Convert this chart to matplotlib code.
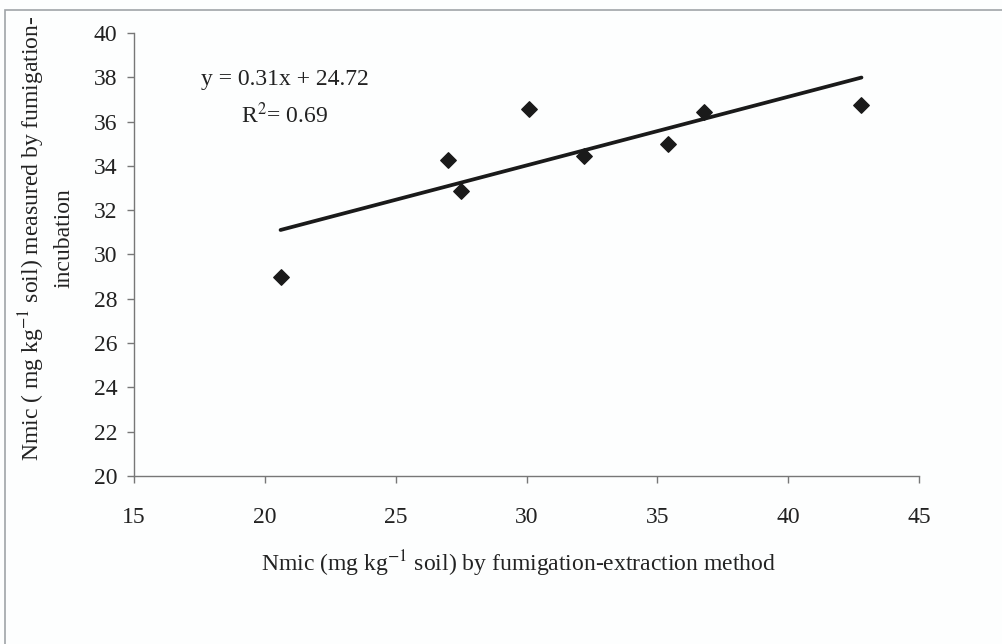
import numpy as np
import matplotlib
matplotlib.use("Agg")
import matplotlib.pyplot as plt
from matplotlib.patches import Rectangle

# Nmic by fumigation-extraction (x) vs fumigation-incubation (y), mg/kg soil
fe_nmic = [20.6, 27.0, 27.5, 30.1, 32.2, 35.4, 36.8, 42.8]
fi_nmic = [29.0, 34.25, 32.88, 36.55, 34.43, 35.0, 36.45, 36.73]

# regression as printed on the chart
slope = 0.31
intercept = 24.72
r_squared = 0.69

x_ticks = [15, 20, 25, 30, 35, 40, 45]
y_ticks = [20, 22, 24, 26, 28, 30, 32, 34, 36, 38, 40]

plt.rcParams["font.family"] = ["Liberation Serif", "DejaVu Serif"]
plt.rcParams["mathtext.fontset"] = "stix"

fs = 17

fig = plt.figure(figsize=(10.03, 6.44), dpi=100)
fig.patch.set_facecolor("#fdfefe")
ax = fig.add_axes([0.1336, 0.2609, 0.7827, 0.6879])
ax.set_facecolor("none")

ax.scatter(fe_nmic, fi_nmic, marker="D", s=62, color="#1a1a1a", zorder=3)

# trend line over the range of the data
xs = np.array([min(fe_nmic), max(fe_nmic)])
ax.plot(xs, slope * xs + intercept, color="#1a1a1a", lw=2.7, solid_capstyle="round", zorder=2)

ax.text(0.192, 0.894, f"y = {slope}x + {intercept}", transform=ax.transAxes,
        ha="center", va="center", fontsize=fs, color="#222222")
ax.text(0.192, 0.815, f"R$^2$= {r_squared}", transform=ax.transAxes,
        ha="center", va="center", fontsize=fs, color="#222222")

ax.set_xlim(15, 45)
ax.set_ylim(20, 40)
ax.set_xticks(x_ticks)
ax.set_yticks(y_ticks)
ax.tick_params(axis="both", labelsize=fs, colors="#777777", labelcolor="#222222",
               direction="out", length=5, width=1)
ax.tick_params(axis="x", pad=17)
ax.tick_params(axis="y", pad=7)

for side in ["top", "right"]:
    ax.spines[side].set_visible(False)
for side in ["left", "bottom"]:
    ax.spines[side].set_color("#777777")
    ax.spines[side].set_linewidth(1)

ax.set_xlabel("Nmic (mg kg$^{-1}$ soil) by fumigation-extraction method",
              fontsize=fs, color="#222222", labelpad=15)
ax.xaxis.label.set_x(0.49)
ax.set_ylabel("Nmic ( mg kg$^{-1}$ soil) measured by fumigation-\nincubation",
              fontsize=fs, color="#222222", linespacing=1.4, multialignment="center")
ax.yaxis.set_label_coords(-0.076, 0.537)

# page border around the figure
fig.add_artist(Rectangle((5 / 1003, -0.1), 1.1, 1.1 - 10 / 644, transform=fig.transFigure,
                         fill=False, edgecolor="#a0a4a8", linewidth=1.2))

fig.savefig("out.png", dpi=100, facecolor=fig.get_facecolor())
